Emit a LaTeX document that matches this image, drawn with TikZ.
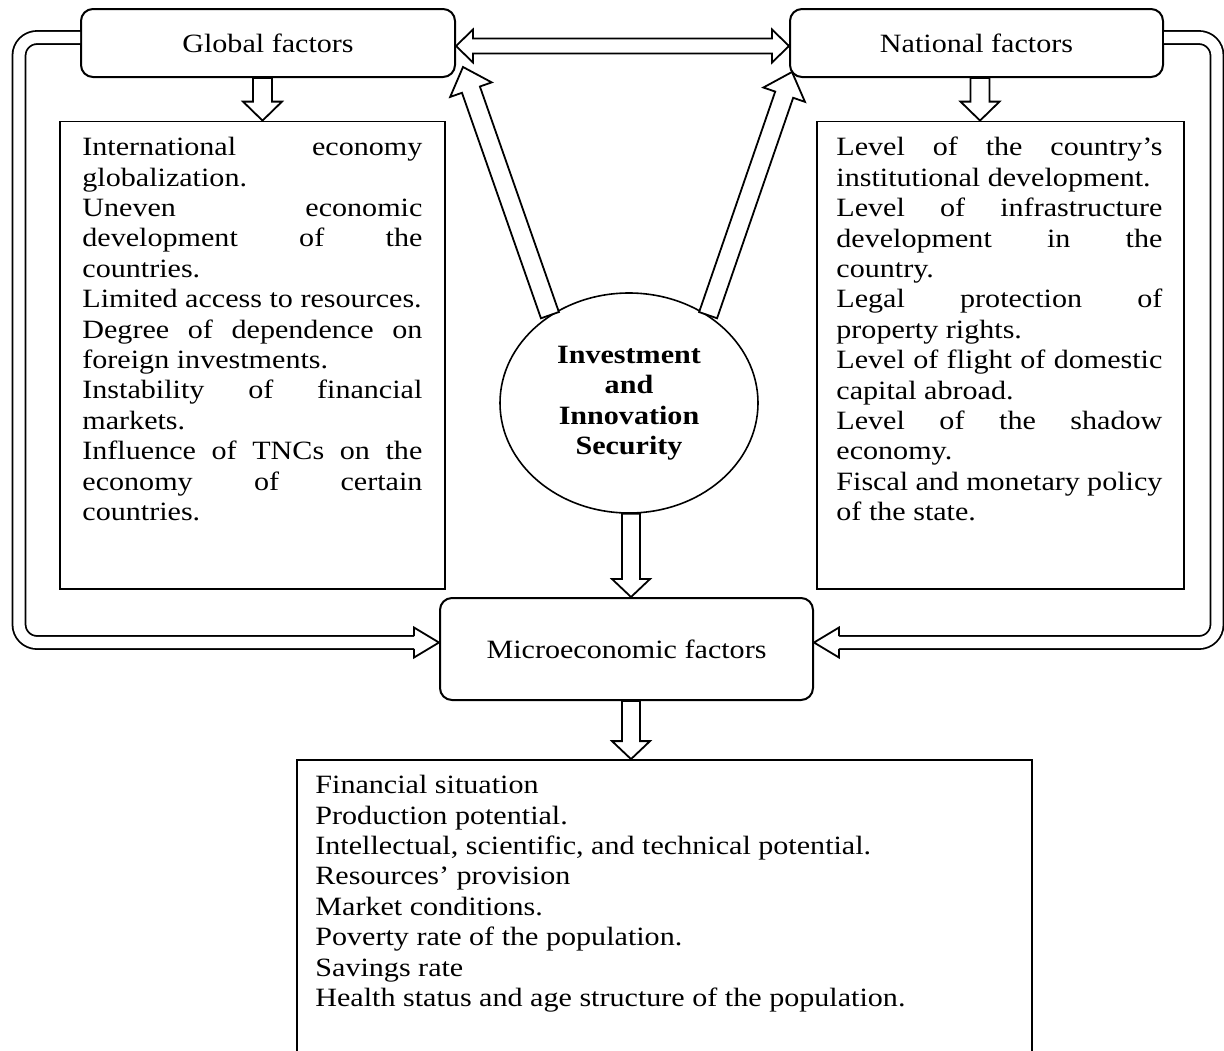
\documentclass[tikz,border=0pt]{standalone}
\usepackage{fontspec}
\setmainfont{Liberation Serif}[FakeStretch=1.14]
\usetikzlibrary{calc,shapes.geometric}
\tolerance=10000
\hyphenpenalty=10000

\newcommand{\diagfont}{\fontsize{13.2}{15.2}\selectfont}

% hollow block arrow: tail, tip, half shaft, half head, head length
\newcommand{\hollowarrow}[5]{%
  \coordinate (ha-base) at ($(#2)!#5!(#1)$);
  \draw[arrowline] ($(#1)!#3!90:(#2)$) -- ($(ha-base)!#3!90:(#2)$)
    -- ($(ha-base)!#4!90:(#2)$) -- (#2) -- ($(ha-base)!#4!-90:(#2)$)
    -- ($(ha-base)!#3!-90:(#2)$) -- ($(#1)!#3!-90:(#2)$) -- cycle;
}
% hollow block arrow with two heads
\newcommand{\hollowboth}[5]{%
  \coordinate (hb-a) at ($(#1)!#5!(#2)$);
  \coordinate (hb-b) at ($(#2)!#5!(#1)$);
  \draw[arrowline] (#1) -- ($(hb-a)!#4!90:(#2)$) -- ($(hb-a)!#3!90:(#2)$)
    -- ($(hb-b)!#3!90:(#2)$) -- ($(hb-b)!#4!90:(#2)$) -- (#2)
    -- ($(hb-b)!#4!-90:(#2)$) -- ($(hb-b)!#3!-90:(#2)$)
    -- ($(hb-a)!#3!-90:(#2)$) -- ($(hb-a)!#4!-90:(#2)$) -- cycle;
}
% open head at the end of a double line
\newcommand{\hollowhead}[4]{%
  \draw[arrowline] ($(#1)!#3!90:(#2)$) -- ($(#1)!#4!90:(#2)$) -- (#2)
    -- ($(#1)!#4!-90:(#2)$) -- ($(#1)!#3!-90:(#2)$);
}

\tikzset{
  factor/.style={draw, line width=1pt, rounded corners=6pt, fill=white,
    minimum width=187pt, minimum height=34pt, inner sep=0pt},
  listframe/.style={draw, line width=0.9pt, inner sep=0pt},
  listtext/.style={anchor=north west, inner sep=0pt, align=justify},
  arrowline/.style={line width=0.9pt, fill=white, line join=miter},
  loopline/.style={line width=0.9pt, double=white, double distance=5.6pt,
    rounded corners=9pt},
}

\begin{document}
\begin{tikzpicture}[x=0.5pt,y=-0.5pt,font=\diagfont]
\path[use as bounding box, fill=white] (0,0) rectangle (1224,1050);
\clip (0,0) rectangle (1224,1050);

% boxes
\node[factor] (glob) at (268,43) {Global factors};
\node[factor, minimum width=186.5pt] (nat) at (976.5,43) {National factors};
\node[factor, minimum width=186.5pt, minimum height=51pt] (micro) at (626.5,649) {Microeconomic factors};
\node[draw, ellipse, line width=0.8pt, minimum width=129pt, minimum height=110pt,
  inner sep=0pt, align=center, font=\diagfont\bfseries] (sec) at (629,403)
  {Investment\\and\\Innovation\\Security};

\node[listframe, minimum width=192.5pt, minimum height=233.75pt] (globlist) at (252.5,355.25) {};
\node[listframe, minimum width=183.5pt, minimum height=233.75pt] (natlist) at (1000.5,355.25) {};
\node[listframe, minimum width=367.5pt, minimum height=160pt] (microlist) at (664.5,920) {};

% list texts
\node[listtext, text width=170pt] (globtext) at (82,137)
  {International economy\linebreak globalization.\\
   Uneven economic\linebreak development of the\linebreak countries.\\
   Limited access to resources.\\
   Degree of dependence on\linebreak foreign investments.\\
   Instability of financial\linebreak markets.\\
   Influence of TNCs on the\linebreak economy of certain\linebreak countries.};
\node[listtext, text width=163pt] (nattext) at (836,137)
  {Level of the country’s\linebreak institutional development.\\
   Level of infrastructure\linebreak development in the\linebreak country.\\
   Legal protection of\linebreak property rights.\\
   Level of flight of domestic\linebreak capital abroad.\\
   Level of the shadow\linebreak economy.\\
   Fiscal and monetary policy\linebreak of the state.};
\node[anchor=north west, inner sep=0pt, align=left] (microtext) at (315,775)
  {Financial situation\\
   Production potential.\\
   Intellectual, scientific, and technical potential.\\
   Resources’ provision\\
   Market conditions.\\
   Poverty rate of the population.\\
   Savings rate\\
   Health status and age structure of the population.};

% loops to the microeconomic box
\coordinate (gl-a) at ($(glob.west)+(0,-5.5)$);
\coordinate (ml-tip) at ($(micro.west)+(0,-6.5)$);
\coordinate (ml-base) at ($(ml-tip)+(-25,0)$);
\draw[loopline] (gl-a) -- ++(-61,0) |- (ml-base);
\hollowhead{ml-base}{ml-tip}{3.2pt}{7.5pt}

\coordinate (nl-a) at ($(nat.east)+(0,-5.5)$);
\coordinate (mr-tip) at ($(micro.east)+(0,-6.5)$);
\coordinate (mr-base) at ($(mr-tip)+(25,0)$);
\draw[loopline] (nl-a) -- ++(53,0) |- (mr-base);
\hollowhead{mr-base}{mr-tip}{3.2pt}{7.5pt}

% top double arrow
\coordinate (t-l) at ($(glob.east)+(0,3)$);
\coordinate (t-r) at (t-l -| nat.west);
\hollowboth{t-l}{t-r}{3.75pt}{8.25pt}{8.5pt}

% from the ellipse up to the factor boxes
\coordinate (gd-tip) at ($(glob.south east)+(7,-11)$);
\hollowarrow{sec.132}{gd-tip}{4.75pt}{11pt}{12pt}
\coordinate (nd-tip) at ($(nat.south west)+(3,-6)$);
\hollowarrow{sec.48}{nd-tip}{4.75pt}{11pt}{12pt}

% down arrows
\coordinate (g-out) at ($(glob.south)+(-5.5,0)$);
\coordinate (g-in) at (g-out |- globlist.north);
\hollowarrow{g-out}{g-in}{4.75pt}{9.75pt}{9.5pt}
\coordinate (n-out) at ($(nat.south)+(3.5,0)$);
\coordinate (n-in) at (n-out |- natlist.north);
\hollowarrow{n-out}{n-in}{4.75pt}{9.75pt}{9.5pt}
\coordinate (s-out) at ($(sec.south)+(2,0)$);
\coordinate (s-in) at (s-out |- micro.north);
\hollowarrow{s-out}{s-in}{4.5pt}{9.5pt}{9pt}
\coordinate (m-out) at (s-out |- micro.south);
\coordinate (m-in) at (s-out |- microlist.north);
\hollowarrow{m-out}{m-in}{4.5pt}{9.5pt}{9pt}
\end{tikzpicture}
\end{document}
